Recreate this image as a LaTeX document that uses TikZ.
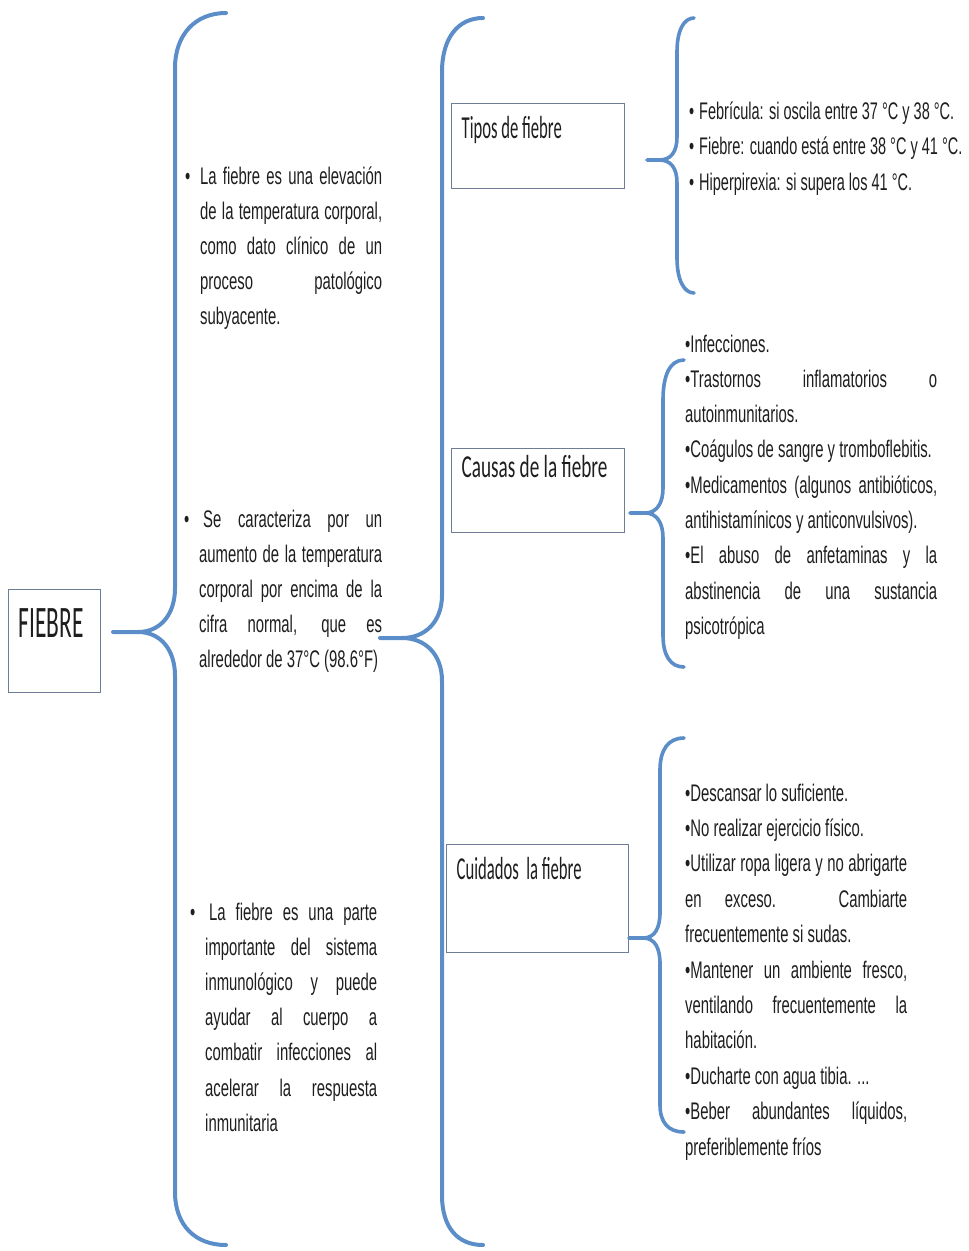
\documentclass[tikz,border=0pt]{standalone}
\usepackage{fontspec}
\setmainfont{Liberation Sans}
\newfontfamily\bodyfont[FakeStretch=0.62]{Liberation Sans}
\newfontfamily\bodyfontn[FakeStretch=0.605]{Liberation Sans}
\newfontfamily\boxfont[FakeStretch=0.52]{Carlito}
\newfontfamily\boxfontw[FakeStretch=0.60]{Carlito}
\definecolor{bracecol}{RGB}{91,141,200}
\definecolor{boxline}{RGB}{110,125,150}
\definecolor{ink}{RGB}{30,30,30}
\newcommand\J[1]{\makebox[\linewidth][s]{#1}\\}
\newcommand\Bul{\leavevmode\llap{\makebox[15pt][l]{•}}}
\newcommand\TB{\leavevmode\llap{\makebox[10pt][l]{•}}}
\newcommand\rs{\spaceskip=0pt\xspaceskip=0pt\relax}
\tikzset{
  bracepath/.style={draw=bracecol, line width=4pt, line cap=round, line join=round},
  smallbrace/.style={bracepath, line width=3.6pt},
  labelbox/.style={draw=boxline, line width=1.3pt, anchor=north west, inner xsep=10pt, inner ysep=0pt, align=left, text=ink},
  para/.style={anchor=base west, inner sep=0pt, align=left, text=ink, font=\bodyfont\fontsize{24}{35.2}\selectfont},
}
\begin{document}
\begin{tikzpicture}[x=1pt,y=-1pt]
\useasboundingbox (0,0) rectangle (969,1251);

% ---- label boxes ----
\node[labelbox, text width=72pt, text height=48pt, text depth=55pt, font=\boxfont\fontsize{45}{50}\selectfont] (fiebre) at (8,589) {\rs FIEBRE};
\node[labelbox, text width=153pt, text height=35pt, text depth=50pt, font=\boxfont\fontsize{32}{36}\selectfont] (tipos) at (451,103) {\rs Tipos de fiebre};
\node[labelbox, text width=153pt, text height=29pt, text depth=55pt, font=\boxfontw\fontsize{32}{36}\selectfont] (causas) at (451,448) {\rs Causas de la fiebre};
\node[labelbox, text width=162pt, text height=35pt, text depth=73pt, font=\boxfont\fontsize{32}{36}\selectfont] (cuidados) at (446,844) {\rs Cuidados\ \ la fiebre};

% ---- left column paragraphs ----
\node[para, text width=182pt] (p1) at (200,184) {\rs\Bul\J{La fiebre es una elevación}\J{de la temperatura corporal,}\J{como dato clínico de un}\J{proceso patológico}subyacente.};
\node[para, text width=183pt] (p2) at (199,527) {\rs\Bul\J{\hspace*{4pt}Se caracteriza por un}\J{aumento de la temperatura}\J{corporal por encima de la}\J{cifra normal, que es}alrededor de 37°C (98.6°F)};
\node[para, text width=172pt] (p3) at (205,920) {\rs\Bul\J{\hspace*{4pt}La fiebre es una parte}\J{importante del sistema}\J{inmunológico y puede}\J{ayudar al cuerpo a}\J{combatir infecciones al}\J{acelerar la respuesta}inmunitaria};

% ---- right column lists ----
\node[para, text width=268pt, font=\bodyfontn\fontsize{24}{35.5}\selectfont] (tiposlist) at (699,119) {\rs\TB Febrícula: si oscila entre 37 °C y 38 °C.\\\TB Fiebre: cuando está entre 38 °C y 41 °C.\\\TB Hiperpirexia: si supera los 41 °C.};
\node[para, text width=252pt, font=\bodyfont\fontsize{24}{35.3}\selectfont] (causaslist) at (685,352) {\rs•Infecciones.\\\J{•Trastornos inflamatorios o}autoinmunitarios.\\•Coágulos de sangre y tromboflebitis.\\\J{•Medicamentos (algunos antibióticos,}antihistamínicos y anticonvulsivos).\\\J{•El abuso de anfetaminas y la}\J{abstinencia de una sustancia}psicotrópica};
\node[para, text width=222pt, font=\bodyfont\fontsize{24}{35.4}\selectfont] (cuidlist) at (685,801) {\rs•Descansar lo suficiente.\\•No realizar ejercicio físico.\\\J{•Utilizar ropa ligera y no abrigarte}\J{en exceso. Cambiarte}frecuentemente si sudas.\\\J{•Mantener un ambiente fresco,}\J{ventilando frecuentemente la}habitación.\\•Ducharte con agua tibia. ...\\\J{•Beber abundantes líquidos,}preferiblemente fríos};

% ---- braces ----
\coordinate (b1tip) at (113,632);
\coordinate (b1j) at (138,632);
\coordinate (b1top) at (226,13);
\coordinate (b1bot) at (226,1245);
\draw[bracepath] (b1tip) -- (b1j) .. controls (160,632) and (175,615) .. (175,588) -- (175,68) .. controls (175,35) and (195,13) .. (b1top);
\draw[bracepath] (b1j) .. controls (160,632) and (175,649) .. (175,676) -- (175,1192) .. controls (175,1225) and (195,1245) .. (b1bot);

\coordinate (b2tip) at (380,638);
\coordinate (b2j) at (402,638);
\coordinate (b2top) at (483,18);
\coordinate (b2bot) at (483,1245);
\draw[bracepath] (b2tip) -- (b2j) .. controls (425,638) and (442,622) .. (442,595) -- (442,72) .. controls (442,38) and (458,18) .. (b2top);
\draw[bracepath] (b2j) .. controls (425,638) and (442,654) .. (442,681) -- (442,1195) .. controls (442,1228) and (458,1245) .. (b2bot);

\coordinate (b3tip) at (647,160);
\coordinate (b3j) at (659,160);
\coordinate (b3top) at (694,18);
\coordinate (b3bot) at (694,293);
\draw[smallbrace] (b3tip) -- (b3j) .. controls (671,160) and (677,152) .. (677,137) -- (677,52) .. controls (677,30) and (684,18) .. (b3top);
\draw[smallbrace] (b3j) .. controls (671,160) and (677,168) .. (677,183) -- (677,258) .. controls (677,280) and (684,293) .. (b3bot);

\coordinate (b4tip) at (630,513);
\coordinate (b4j) at (645,513);
\coordinate (b4top) at (684,360);
\coordinate (b4bot) at (684,667);
\draw[smallbrace] (b4tip) -- (b4j) .. controls (657,513) and (663,503) .. (663,488) -- (663,400) .. controls (663,375) and (670,360) .. (b4top);
\draw[smallbrace] (b4j) .. controls (657,513) and (663,523) .. (663,538) -- (663,635) .. controls (663,655) and (670,667) .. (b4bot);

\coordinate (b5tip) at (629,938);
\coordinate (b5j) at (643,938);
\coordinate (b5top) at (684,738);
\coordinate (b5bot) at (684,1132);
\draw[smallbrace] (b5tip) -- (b5j) .. controls (655,938) and (660,928) .. (660,912) -- (660,770) .. controls (660,750) and (668,738) .. (b5top);
\draw[smallbrace] (b5j) .. controls (655,938) and (660,948) .. (660,964) -- (660,1105) .. controls (660,1122) and (668,1132) .. (b5bot);
\end{tikzpicture}
\end{document}
